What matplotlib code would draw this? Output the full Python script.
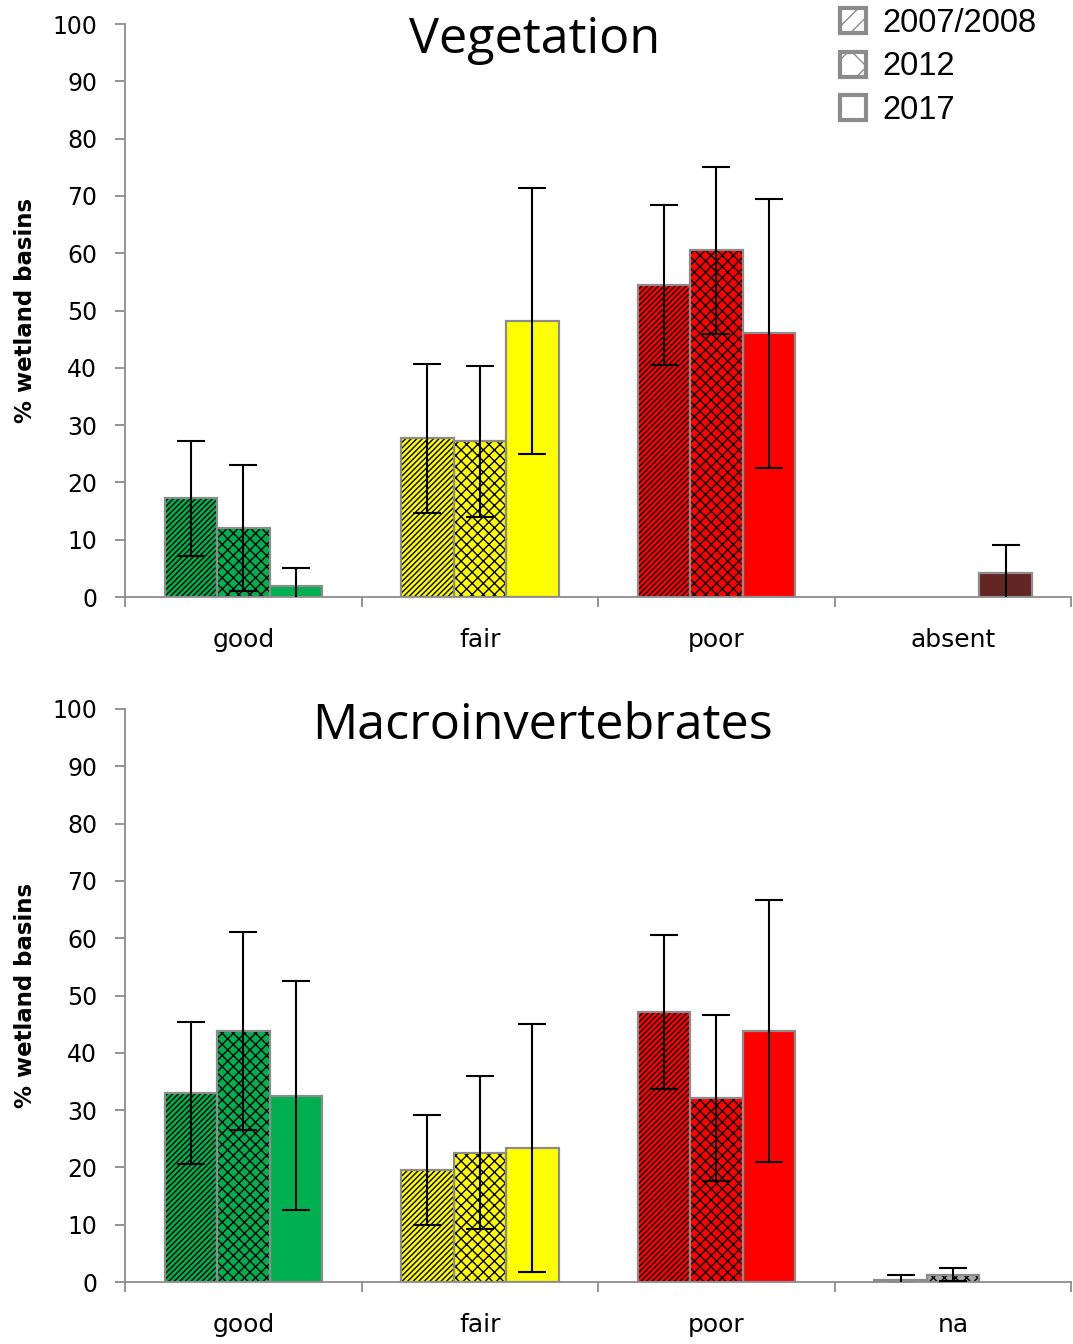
import numpy as np
import matplotlib.pyplot as plt
from matplotlib.patches import Patch

plt.rcParams['font.family'] = ['DejaVu Sans']
plt.rcParams['hatch.linewidth'] = 1.0

# 데이터
years = ["2007/2008", "2012", "2017"]
hatches = ["//////", "xxx", ""]

veg_cats = ["good", "fair", "poor", "absent"]
veg_colors = ["#00B050", "#FFFF00", "#FF0000", "#632523"]
veg_vals = [[17.2, 27.7, 54.5, 0.0],
            [12.0, 27.2, 60.5, 0.0],
            [2.0, 48.2, 46.0, 4.2]]
veg_err = [[10.0, 13.0, 14.0, 0.0],
           [11.0, 13.2, 14.6, 0.0],
           [3.0, 23.2, 23.5, 4.8]]

mac_cats = ["good", "fair", "poor", "na"]
mac_colors = ["#00B050", "#FFFF00", "#FF0000", "#A6A6A6"]
mac_vals = [[33.0, 19.6, 47.1, 0.4],
            [43.8, 22.6, 32.1, 1.3],
            [32.5, 23.4, 43.8, 0.0]]
mac_err = [[12.4, 9.6, 13.5, 0.8],
           [17.2, 13.4, 14.5, 1.2],
           [20.0, 21.7, 22.9, 0.0]]

EDGE = "#8c8c8c"


def draw_panel(ax, cats, colors, vals, errs, title, tx, ty):
    x = np.arange(len(cats))
    w = 0.222
    for i in range(3):
        for j in range(len(cats)):
            if vals[i][j] == 0 and errs[i][j] == 0:
                continue
            xc = x[j] + (i - 1) * w
            # 해칭은 검은색, 테두리는 회색
            ax.bar(xc, vals[i][j], w, color=colors[j], edgecolor="black",
                   linewidth=0, hatch=hatches[i], zorder=2)
            ax.bar(xc, vals[i][j], w, fill=False, edgecolor=EDGE,
                   linewidth=1.6, zorder=2.5)
            ax.errorbar(xc, vals[i][j], yerr=errs[i][j], fmt="none", ecolor="black",
                        elinewidth=1.5, capsize=10, capthick=1.5, zorder=3)
    ax.set_xlim(-0.5, len(cats) - 0.5)
    ax.set_ylim(0, 100)
    ax.set_yticks(np.arange(0, 101, 10))
    ax.set_xticks(x)
    ax.set_xticklabels(cats, fontsize=18)
    ax.set_xticks(np.arange(-0.5, len(cats), 1), minor=True)
    ax.tick_params(axis="x", which="major", length=0, pad=22)
    ax.tick_params(axis="x", which="minor", length=7, color=EDGE, width=1.3)
    ax.tick_params(axis="y", labelsize=17, length=7, color=EDGE, width=1.3, pad=13)
    for s in ["top", "right"]:
        ax.spines[s].set_visible(False)
    for s in ["left", "bottom"]:
        ax.spines[s].set_color(EDGE)
        ax.spines[s].set_linewidth(1.3)
    ax.set_ylabel("% wetland basins", fontsize=16.5, fontweight="bold")
    ax.yaxis.set_label_coords(-0.093, 0.5)
    ax.text(tx, ty, title, transform=ax.transAxes, ha="center", va="center",
            fontsize=36.3, family="Open Sans")


fig = plt.figure(figsize=(10.73, 13.44), dpi=100)
ax1 = fig.add_axes([0.1165, 0.5558, 0.882, 0.4263])
ax2 = fig.add_axes([0.1165, 0.0461, 0.882, 0.4264])

draw_panel(ax1, veg_cats, veg_colors, veg_vals, veg_err, "Vegetation", 0.433, 0.972)
draw_panel(ax2, mac_cats, mac_colors, mac_vals, mac_err, "Macroinvertebrates", 0.441, 0.97)

handles = [Patch(facecolor="white", edgecolor=EDGE, linewidth=3, hatch=h, label=y)
           for h, y in zip(["//", "x", ""], years)]
fig.legend(handles=handles, loc="upper left", bbox_to_anchor=(0.783, 0.994),
           frameon=False, borderpad=0, borderaxespad=0,
           prop={"family": "Liberation Sans", "size": 23.5},
           handlelength=0.8, handleheight=0.8, handletextpad=0.5,
           labelspacing=0.38)

plt.savefig("out.png", dpi=100)
plt.close()
